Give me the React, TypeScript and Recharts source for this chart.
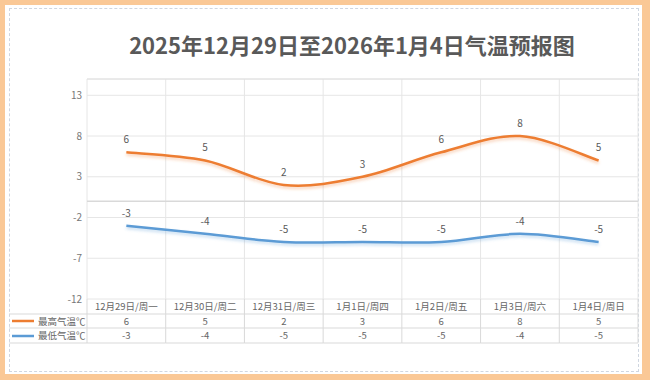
import { LineChart, Line, XAxis, YAxis, CartesianGrid, ReferenceLine, LabelList } from 'recharts';

// values
const days = ['12月29日/周一', '12月30日/周二', '12月31日/周三', '1月1日/周四', '1月2日/周五', '1月3日/周六', '1月4日/周日'];
const highs = [6, 5, 2, 3, 6, 8, 5];
const lows = [-3, -4, -5, -5, -5, -4, -5];
const yTicks = [-12, -7, -2, 3, 8, 13];
const seriesNames = ['最高气温℃', '最低气温℃'];
const title = '2025年12月29日至2026年1月4日气温预报图';

const data = days.map((day, i) => ({ day, high: highs[i], low: lows[i] }));

const HIGH_COLOR = '#ED7D31';
const LOW_COLOR = '#5B9BD5';
const FONT = '"Noto Sans CJK SC", "Noto Sans", sans-serif';

const CHART_W = 650;
const CHART_H = 380;
const MARGIN = { top: 79, right: 12, bottom: 37, left: 0 };
const YAXIS_W = 87;
const XAXIS_H = 44;
const PLOT_W = CHART_W - MARGIN.left - MARGIN.right - YAXIS_W;
const COL_W = PLOT_W / days.length;
const PLOT_BOTTOM = CHART_H - MARGIN.bottom - XAXIS_H;
const ROWS = [15, 29, 44]; // table row lines below the plot
const LEGEND_LEFT = 9;

// Excel-style smoothed line: bezier through every point, control arms = neighbour slope / 6
const excelCurve = (context: any) => {
  let pts: number[][] = [];
  return {
    areaStart() {},
    areaEnd() {},
    lineStart() {
      pts = [];
    },
    point(x: number, y: number) {
      pts.push([+x, +y]);
    },
    lineEnd() {
      if (!pts.length) return;
      context.moveTo(pts[0][0], pts[0][1]);
      for (let i = 0; i < pts.length - 1; i++) {
        const p0 = pts[Math.max(i - 1, 0)];
        const p1 = pts[i];
        const p2 = pts[i + 1];
        const p3 = pts[Math.min(i + 2, pts.length - 1)];
        context.bezierCurveTo(
          p1[0] + (p2[0] - p0[0]) / 6,
          p1[1] + (p2[1] - p0[1]) / 6,
          p2[0] - (p3[0] - p1[0]) / 6,
          p2[1] - (p3[1] - p1[1]) / 6,
          p2[0],
          p2[1]
        );
      }
    },
  };
};

const TableTick = (props: any) => {
  const { x, index } = props;
  const i = index ?? props.payload?.index ?? 0;
  const y = PLOT_BOTTOM;
  const l = x - COL_W / 2;
  const r = x + COL_W / 2;
  const line = '#d9d9d9';
  const txt = { fontSize: 9.5, fill: '#666', fontFamily: FONT, textAnchor: 'middle' as const };
  return (
    <g>
      <line x1={l} x2={l} y1={y} y2={y + ROWS[2]} stroke={line} />
      {i === days.length - 1 && <line x1={r} x2={r} y1={y} y2={y + ROWS[2]} stroke={line} />}
      {ROWS.map((d) => (
        <line key={d} x1={l} x2={r} y1={y + d} y2={y + d} stroke={line} />
      ))}
      <text x={x} y={y + 11} {...txt}>{days[i]}</text>
      <text x={x} y={y + 25.5} {...txt}>{highs[i]}</text>
      <text x={x} y={y + 40} {...txt}>{lows[i]}</text>
      {i === 0 && (
        <g>
          {ROWS.map((d) => (
            <line key={d} x1={LEGEND_LEFT} x2={l} y1={y + d} y2={y + d} stroke={line} />
          ))}
          <line x1={12} x2={34} y1={y + 22} y2={y + 22} stroke={HIGH_COLOR} strokeWidth={2.5} />
          <line x1={12} x2={34} y1={y + 37} y2={y + 37} stroke={LOW_COLOR} strokeWidth={2.5} />
          <text x={38} y={y + 25.5} fontSize={9.5} fill="#666" fontFamily={FONT}>{seriesNames[0]}</text>
          <text x={38} y={y + 40} fontSize={9.5} fill="#666" fontFamily={FONT}>{seriesNames[1]}</text>
        </g>
      )}
    </g>
  );
};

export default function App() {
  return (
    <div style={{ position: 'absolute', left: 0, top: 0, width: CHART_W, height: CHART_H, background: '#FAC896', fontFamily: FONT }}>
      <svg width={0} height={0} style={{ position: 'absolute' }}>
        <defs>
          <filter id="shadowHigh" x="-10%" y="-30%" width="120%" height="160%">
            <feDropShadow dx="0" dy="2" stdDeviation="1.5" floodColor={HIGH_COLOR} floodOpacity="0.35" />
          </filter>
          <filter id="shadowLow" x="-10%" y="-30%" width="120%" height="160%">
            <feDropShadow dx="0" dy="2" stdDeviation="1.5" floodColor={LOW_COLOR} floodOpacity="0.35" />
          </filter>
        </defs>
      </svg>
      <div style={{ position: 'absolute', left: 5, top: 5, width: 637, height: 369, background: '#fff' }} />
      <div style={{ position: 'absolute', left: 9, top: 8, width: 628, height: 362, border: '1px dashed #cfd6e0' }} />
      <div
        style={{
          position: 'absolute',
          left: 54,
          top: 29,
          width: 596,
          textAlign: 'center',
          fontSize: 22,
          fontWeight: 'bold',
          color: '#595959',
          lineHeight: '30px',
        }}
      >
        {title}
      </div>
      <div style={{ position: 'absolute', left: 0, top: 0 }}>
        <LineChart width={CHART_W} height={CHART_H} data={data} margin={MARGIN}>
          <CartesianGrid
            stroke="#e6e6e6"
            verticalCoordinatesGenerator={({ offset }: any) =>
              Array.from({ length: days.length + 1 }, (_, i) => offset.left + (i * offset.width) / days.length)
            }
          />
          <ReferenceLine y={15} stroke="#e0e0e0" />
          <ReferenceLine y={0} stroke="#d9d9d9" strokeWidth={1.5} />
          <XAxis
            dataKey="day"
            height={XAXIS_H}
            axisLine={false}
            tickLine={false}
            tickSize={0}
            interval={0}
            padding={{ left: COL_W / 2, right: COL_W / 2 }}
            tick={<TableTick />}
          />
          <YAxis
            width={YAXIS_W}
            domain={[-12, 15]}
            ticks={yTicks}
            axisLine={false}
            tickLine={false}
            tickSize={0}
            tickMargin={5}
            tick={{ fontSize: 10, fill: '#777', fontFamily: FONT }}
          />
          <Line
            dataKey="high"
            type={excelCurve as any}
            stroke={HIGH_COLOR}
            strokeWidth={2.5}
            dot={false}
            filter="url(#shadowHigh)"
            isAnimationActive={false}
          >
            <LabelList dataKey="high" position="top" offset={9} fontSize={10} fill="#595959" fontFamily={FONT} />
          </Line>
          <Line
            dataKey="low"
            type={excelCurve as any}
            stroke={LOW_COLOR}
            strokeWidth={2.5}
            dot={false}
            filter="url(#shadowLow)"
            isAnimationActive={false}
          >
            <LabelList dataKey="low" position="top" offset={9} fontSize={10} fill="#595959" fontFamily={FONT} />
          </Line>
        </LineChart>
      </div>
    </div>
  );
}
